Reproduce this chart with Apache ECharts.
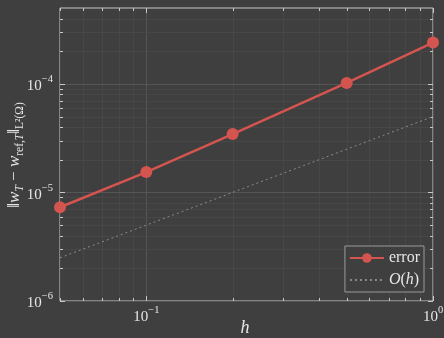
<!DOCTYPE html>
<html><head><meta charset="utf-8">
<script src="https://cdn.jsdelivr.net/npm/echarts@6/dist/echarts.min.js"></script>
<style>html,body{margin:0;padding:0;background:#3f3f3f}#c{width:444px;height:338px}</style>
</head><body><div id="c"></div>
<script>
// data
var hValues = [0.05, 0.1, 0.2, 0.5, 1];
var errorValues = [7.3e-6, 1.54e-5, 3.45e-5, 1.02e-4, 2.4e-4];
var refH = [0.05, 1];
var refValues = [2.5e-6, 5e-5];
// ticks
var xMajorTicks = [0.1, 1];
var xMinorTicks = [0.05, 0.06, 0.07, 0.08, 0.09, 0.2, 0.3, 0.4, 0.5, 0.6, 0.7, 0.8, 0.9];
var yMajorTicks = [1e-6, 1e-5, 1e-4];
var yMinorTicks = [2e-6,3e-6,4e-6,5e-6,6e-6,7e-6,8e-6,9e-6,2e-5,3e-5,4e-5,5e-5,6e-5,7e-5,8e-5,9e-5,2e-4,3e-4,4e-4];
var xMin = 0.05, xMax = 1, yMin = 1e-6, yMax = 5e-4;

var FONT = 'Liberation Serif';
var txt = '#e6e6e6';

function expLabel(v) {
  var e = Math.log10(v);
  var r = Math.round(e);
  if (Math.abs(e - r) > 1e-6) return '';
  return '{b|10}{s|' + (r < 0 ? '\u2212' + (-r) : r) + '}';
}
var labelRich = {
  b: {fontFamily: FONT, fontSize: 15, color: txt, lineHeight: 20, verticalAlign: 'bottom'},
  s: {fontFamily: FONT, fontSize: 10.5, color: txt, lineHeight: 20, verticalAlign: 'top'}
};

function renderGrid(params, api) {
  var children = [];
  var x0 = api.coord([xMin, yMin]), x1 = api.coord([xMax, yMax]);
  var left = x0[0], bottom = x0[1], right = x1[0], top = x1[1];
  function line(a, b, c, d, color) {
    children.push({type: 'line', shape: {x1: a, y1: b, x2: c, y2: d}, style: {stroke: color, lineWidth: 1}});
  }
  xMinorTicks.forEach(function (v) {
    var x = Math.round(api.coord([v, yMin])[0]) + 0.5;
    line(x, top, x, bottom, '#474747');
    line(x, bottom, x, bottom - 3, '#c8c8c8');
    line(x, top, x, top + 3, '#c8c8c8');
  });
  xMajorTicks.forEach(function (v) {
    var x = Math.round(api.coord([v, yMin])[0]) + 0.5;
    line(x, top, x, bottom, '#555555');
    line(x, bottom, x, bottom - 5, '#c8c8c8');
    line(x, top, x, top + 5, '#c8c8c8');
  });
  yMinorTicks.forEach(function (v) {
    var y = Math.round(api.coord([xMin, v])[1]) + 0.5;
    line(left, y, right, y, '#474747');
    line(left, y, left + 3, y, '#c8c8c8');
    line(right, y, right - 3, y, '#c8c8c8');
  });
  yMajorTicks.forEach(function (v) {
    var y = Math.round(api.coord([xMin, v])[1]) + 0.5;
    line(left, y, right, y, '#555555');
    line(left, y, left + 5, y, '#c8c8c8');
    line(right, y, right - 5, y, '#c8c8c8');
  });
  return {type: 'group', children: children};
}

var yNameRich = {
  n: {fontFamily: FONT, fontSize: 17, color: txt, lineHeight: 22, verticalAlign: 'middle'},
  i: {fontFamily: FONT, fontSize: 17, fontStyle: 'italic', color: txt, lineHeight: 22, verticalAlign: 'middle'},
  s: {fontFamily: FONT, fontSize: 11.5, color: txt, lineHeight: 22, verticalAlign: 'bottom'},
  si: {fontFamily: FONT, fontSize: 11.5, fontStyle: 'italic', color: txt, lineHeight: 22, verticalAlign: 'bottom'}
};

var chart = echarts.init(document.getElementById('c'), null, {renderer: 'canvas'});
chart.setOption({
  backgroundColor: '#3f3f3f',
  animation: false,
  grid: {left: 60, right: 11, top: 8, bottom: 37, containLabel: false, outerBoundsMode: 'none',
    show: true, borderColor: '#c8c8c8', borderWidth: 1, backgroundColor: '#3f3f3f'},
  graphic: [{
    type: 'text', x: 15, y: 155, rotation: Math.PI / 2,
    style: {
      text: '{n|\u2016}{i|w}{si|T}{n| \u2212 }{i|w}{s|ref,}{si|T}{n|\u2016}{s|L\u00b2(\u03a9)}',
      rich: yNameRich, align: 'center', verticalAlign: 'middle', fill: txt
    }
  }, {
    type: 'text', x: 245, y: 328,
    style: {
      text: 'h', fontFamily: FONT, fontStyle: 'italic', fontSize: 18, fill: txt,
      align: 'center', verticalAlign: 'middle'
    }
  }],
  xAxis: {
    type: 'log', logBase: 10, min: xMin, max: xMax,
    axisLine: {show: false}, axisTick: {show: false}, splitLine: {show: false},
    axisLabel: {formatter: expLabel, rich: labelRich, margin: 4, showMinLabel: true, showMaxLabel: true}
  },
  yAxis: {
    type: 'log', logBase: 10, min: yMin, max: yMax,
    axisLine: {show: false}, axisTick: {show: false}, splitLine: {show: false},
    axisLabel: {formatter: expLabel, rich: labelRich, margin: 7}
  },
  legend: {
    data: ['error', {name: 'O(h)', itemStyle: {opacity: 0}}],
    orient: 'vertical', right: 20, bottom: 46,
    itemWidth: 34, itemHeight: 12, itemGap: 6,
    padding: [4, 4, 4, 4],
    borderColor: '#9a9a9a', borderWidth: 1, backgroundColor: '#3f3f3f',
    formatter: function (name) {
      return name === 'error' ? '{t|error}' : '{o|O}{t|(}{o|h}{t|)}';
    },
    textStyle: {
      color: txt, fontFamily: FONT, fontSize: 15,
      rich: {
        t: {fontFamily: FONT, fontSize: 16, color: txt},
        o: {fontFamily: FONT, fontSize: 16, fontStyle: 'italic', color: txt}
      }
    }
  },
  series: [
    {
      type: 'custom', name: 'grid', silent: true, z: 1,
      renderItem: renderGrid, data: [[0.1, 1e-5]], clip: false
    },
    {
      type: 'line', name: 'O(h)', z: 3,
      data: refH.map(function (h, i) { return [h, refValues[i]]; }),
      symbol: 'none',
      lineStyle: {color: '#8c8c8c', width: 1, type: [2, 3]},
      itemStyle: {color: '#8c8c8c'}
    },
    {
      type: 'line', name: 'error', z: 4,
      data: hValues.map(function (h, i) { return [h, errorValues[i]]; }),
      symbol: 'circle', symbolSize: 12,
      lineStyle: {color: '#d4544f', width: 2.5},
      itemStyle: {color: '#d4544f'}
    }
  ]
});
</script></body></html>
